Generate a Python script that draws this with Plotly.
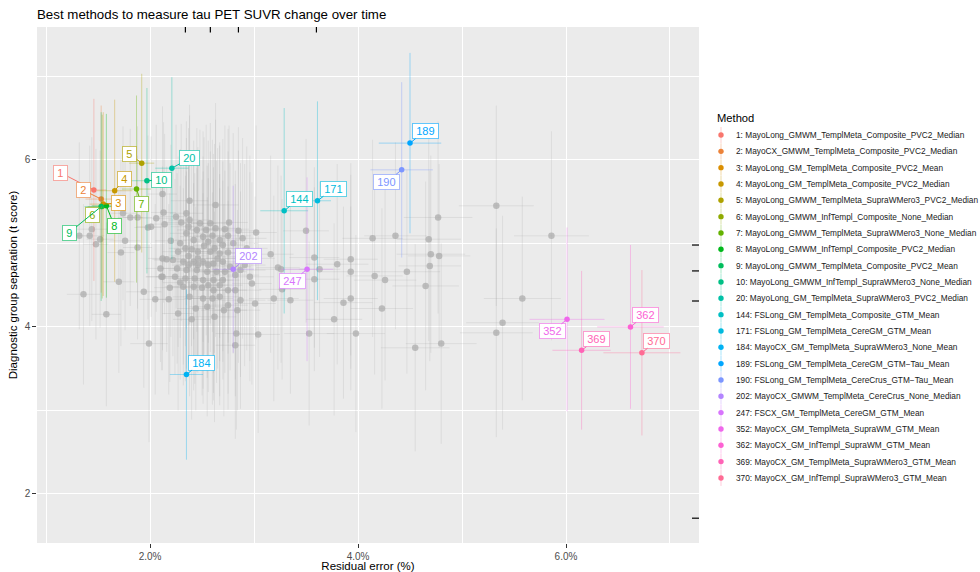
import math
import plotly.graph_objects as go

# ---------------- data ----------------
method_ids = [1, 2, 3, 4, 5, 6, 7, 8, 9, 10, 20, 144, 171, 184, 189, 190, 202, 247, 352, 362, 369, 370]
method_names = [
    "MayoLong_GMWM_TemplMeta_Composite_PVC2_Median",
    "MayoCX_GMWM_TemplMeta_Composite_PVC2_Median",
    "MayoLong_GM_TemplMeta_Composite_PVC2_Mean",
    "MayoLong_GM_TemplMeta_Composite_PVC2_Median",
    "MayoLong_GMWM_TemplMeta_SupraWMero3_PVC2_Median",
    "MayoLong_GMWM_InfTempl_Composite_None_Median",
    "MayoLong_GMWM_TemplMeta_SupraWMero3_None_Median",
    "MayoLong_GMWM_InfTempl_Composite_PVC2_Median",
    "MayoLong_GMWM_TemplMeta_Composite_PVC2_Mean",
    "MayoLong_GMWM_InfTempl_SupraWMero3_None_Median",
    "MayoLong_GM_TemplMeta_SupraWMero3_PVC2_Median",
    "FSLong_GM_TemplMeta_Composite_GTM_Mean",
    "FSLong_GM_TemplMeta_CereGM_GTM_Mean",
    "MayoCX_GM_TemplMeta_SupraWMero3_None_Mean",
    "FSLong_GM_TemplMeta_CereGM_GTM\u2212Tau_Mean",
    "FSLong_GM_TemplMeta_CereCrus_GTM\u2212Tau_Mean",
    "MayoCX_GMWM_TemplMeta_CereCrus_None_Median",
    "FSCX_GM_TemplMeta_CereGM_GTM_Mean",
    "MayoCX_GM_TemplMeta_SupraWM_GTM_Mean",
    "MayoCX_GM_InfTempl_SupraWM_GTM_Mean",
    "MayoCX_GM_TemplMeta_SupraWMero3_GTM_Mean",
    "MayoCX_GM_InfTempl_SupraWMero3_GTM_Mean",
]
# residual error (%) and t score for highlighted methods
hl_x = [1.46, 1.53, 1.55, 1.66, 1.92, 1.54, 1.87, 1.58, 1.53, 1.97, 2.21, 3.29, 3.61, 2.35, 4.50, 4.42, 2.80, 3.51, 6.01, 6.62, 6.15, 6.73]
hl_y = [5.64, 5.53, 5.47, 5.63, 5.96, 5.44, 5.65, 5.45, 5.44, 5.75, 5.90, 5.39, 5.51, 3.43, 6.20, 5.88, 4.69, 4.69, 4.09, 4.00, 3.72, 3.69]
hl_ex = [0.12, 0.15, 0.13, 0.17, 0.12, 0.14, 0.14, 0.14, 0.16, 0.15, 0.16, 0.23, 0.13, 0.16, 0.30, 0.30, 0.20, 0.25, 0.36, 0.32, 0.28, 0.37]
hl_ey = [1.09, 1.12, 1.10, 1.09, 1.07, 1.10, 1.12, 1.10, 1.13, 1.11, 1.09, 1.23, 1.19, 1.02, 1.08, 1.05, 1.00, 1.10, 1.10, 0.98, 0.95, 0.99]

# all other methods (grey)
bg_x = [
    5.33, 4.77, 3.50, 4.14, 4.36, 4.68, 5.86, 3.58, 3.93, 3.80, 4.70, 4.78, 3.26, 3.63, 3.93, 4.47, 4.69,
    3.58, 4.16, 4.26, 4.65, 3.35, 3.86, 3.93, 4.23, 5.58, 3.77, 5.39, 3.53, 3.98, 5.33, 4.80, 4.55, 3.27,
    2.12, 2.13, 2.06, 1.98, 1.81, 1.88, 1.74, 1.44, 1.32, 1.42, 1.52, 1.48, 1.76, 1.88, 1.72, 2.14, 2.20,
    2.12, 2.12, 1.70, 1.94, 1.36, 2.05, 1.58, 1.99,
    2.38, 2.63, 2.25, 2.01, 2.30, 2.38, 2.48, 2.58, 2.63, 2.76, 2.72, 3.02, 2.35, 2.42, 2.51, 2.56, 2.67,
    2.29, 2.70, 2.80, 2.93, 3.16, 2.40, 2.46, 2.58, 2.67, 2.16, 2.22, 2.32, 2.42, 2.51, 2.61, 2.70, 2.77,
    2.26, 2.35, 2.45, 2.55, 2.64, 2.72, 2.87, 2.11, 2.24, 2.34, 2.43, 2.51, 2.61, 2.70, 2.96, 3.23, 2.32,
    2.42, 2.50, 2.61, 2.82, 2.98, 2.18, 2.51, 2.67, 3.19, 3.01, 2.75, 2.55, 2.27, 2.40, 2.71,
    2.84, 2.83, 2.82, 3.04, 2.35,
    2.37, 2.45, 2.54, 2.60, 2.75, 2.85, 2.89, 2.34, 2.52, 2.62, 2.75, 2.85, 2.96, 2.27, 2.37, 2.46, 2.65,
    2.56, 2.46, 2.37, 2.82, 2.91, 2.29, 2.56, 2.67, 2.75, 2.38, 2.60, 2.87, 2.44, 2.62, 2.19, 2.10,
]
bg_y = [
    5.45, 5.31, 5.15, 5.06, 5.09, 5.05, 5.09, 4.83, 4.81, 4.75, 4.87, 4.85, 4.69, 4.69, 4.66, 4.66, 4.73,
    4.57, 4.61, 4.56, 4.49, 4.32, 4.29, 4.34, 4.22, 4.34, 4.09, 4.05, 3.92, 3.92, 3.93, 3.80, 3.75, 4.45,
    5.59, 5.37, 5.30, 5.19, 5.31, 5.31, 5.36, 5.17, 5.09, 5.09, 5.05, 4.99, 5.03, 4.95, 4.89, 5.23, 5.03,
    4.82, 4.60, 4.54, 4.42, 4.39, 4.33, 4.15, 3.80,
    5.51, 5.46, 5.32, 5.20, 5.25, 5.28, 5.24, 5.24, 5.18, 5.25, 5.17, 5.13, 5.12, 5.04, 5.08, 5.02, 5.04,
    5.00, 4.98, 5.00, 4.94, 4.87, 4.93, 4.90, 4.90, 4.88, 4.81, 4.80, 4.78, 4.78, 4.78, 4.76, 4.78, 4.72,
    4.70, 4.68, 4.68, 4.66, 4.66, 4.66, 4.68, 4.60, 4.60, 4.58, 4.58, 4.56, 4.56, 4.56, 4.60, 4.71, 4.48,
    4.48, 4.47, 4.44, 4.44, 4.52, 4.33, 4.34, 4.36, 4.34, 4.28, 4.26, 4.24, 4.16, 4.09, 4.20,
    4.20, 3.92, 3.78, 3.91, 5.36,
    5.20, 5.16, 5.16, 5.09, 5.09, 5.15, 5.06, 4.94, 4.97, 4.94, 4.89, 4.84, 4.82, 4.90, 4.85, 4.82, 4.82,
    4.74, 4.74, 4.74, 4.62, 4.74, 4.53, 4.50, 4.50, 4.44, 4.36, 4.34, 4.32, 4.22, 4.12, 4.47, 4.70,
]
bg_ex = [
    0.36, 0.33, 0.22, 0.29, 0.30, 0.31, 0.36, 0.24, 0.26, 0.30, 0.33, 0.30, 0.25, 0.20, 0.28, 0.32, 0.30,
    0.24, 0.27, 0.30, 0.32, 0.22, 0.28, 0.26, 0.30, 0.37, 0.27, 0.35, 0.24, 0.28, 0.35, 0.34, 0.33, 0.22,
    0.14, 0.12, 0.15, 0.13, 0.12, 0.14, 0.13, 0.15, 0.12, 0.14, 0.13, 0.12, 0.15, 0.14, 0.13, 0.16, 0.15,
    0.14, 0.16, 0.15, 0.17, 0.16, 0.15, 0.14, 0.18,
    0.18, 0.22, 0.15, 0.14, 0.17, 0.20, 0.16, 0.19, 0.21, 0.18, 0.23, 0.20, 0.16, 0.18, 0.22, 0.17, 0.19,
    0.15, 0.21, 0.24, 0.20, 0.22, 0.17, 0.19, 0.16, 0.20, 0.14, 0.18, 0.21, 0.16, 0.19, 0.23, 0.18, 0.20,
    0.15, 0.17, 0.22, 0.19, 0.16, 0.21, 0.24, 0.15, 0.18, 0.20, 0.17, 0.22, 0.19, 0.16, 0.23, 0.21, 0.18,
    0.20, 0.17, 0.22, 0.25, 0.19, 0.16, 0.18, 0.21, 0.24, 0.20, 0.19, 0.17, 0.15, 0.18, 0.22,
    0.22, 0.20, 0.19, 0.21, 0.16,
    0.17, 0.19, 0.21, 0.18, 0.22, 0.20, 0.23, 0.16, 0.19, 0.21, 0.18, 0.22, 0.24, 0.15, 0.17, 0.20, 0.19,
    0.18, 0.21, 0.16, 0.23, 0.20, 0.17, 0.19, 0.22, 0.18, 0.16, 0.20, 0.24, 0.18, 0.21, 0.15, 0.14,
]
bg_ey = [
    1.20, 1.15, 1.10, 1.18, 1.12, 1.22, 1.25, 1.08, 1.15, 1.20, 1.18, 1.10, 1.12, 1.05, 1.16, 1.22, 1.14,
    1.10, 1.18, 1.20, 1.25, 1.12, 1.15, 1.10, 1.20, 1.22, 1.15, 1.28, 1.10, 1.18, 1.25, 1.20, 1.24, 1.08,
    1.05, 1.08, 1.12, 1.10, 1.06, 1.09, 1.04, 1.10, 1.12, 1.08, 1.06, 1.14, 1.07, 1.10, 1.12, 1.08, 1.15,
    1.10, 1.12, 1.09, 1.15, 1.08, 1.14, 1.10, 1.18,
    1.15, 1.22, 1.10, 1.08, 1.18, 1.25, 1.12, 1.20, 1.30, 1.16, 1.24, 1.28, 1.14, 1.19, 1.26, 1.21, 1.17,
    1.13, 1.27, 1.32, 1.22, 1.18, 1.16, 1.25, 1.20, 1.29, 1.11, 1.15, 1.23, 1.19, 1.26, 1.31, 1.20, 1.24,
    1.14, 1.18, 1.22, 1.27, 1.33, 1.21, 1.28, 1.12, 1.17, 1.23, 1.26, 1.30, 1.35, 1.19, 1.25, 1.22, 1.18,
    1.24, 1.29, 1.32, 1.27, 1.21, 1.14, 1.26, 1.30, 1.23, 1.28, 1.25, 1.31, 1.16, 1.20, 1.27,
    1.20, 1.15, 1.12, 1.18, 1.10,
    1.18, 1.22, 1.26, 1.15, 1.28, 1.24, 1.20, 1.17, 1.30, 1.25, 1.21, 1.27, 1.23, 1.14, 1.19, 1.26, 1.32,
    1.22, 1.29, 1.18, 1.25, 1.21, 1.16, 1.28, 1.33, 1.24, 1.19, 1.27, 1.30, 1.22, 1.26, 1.13, 1.12,
]

# rug marks (top: residual error, right: t score)
rug_x = [2.34, 2.58, 2.85, 3.60]
rug_y = [4.98, 4.67, 4.31, 1.71]

x_tickvals = [2, 4, 6]
x_ticktext = ["2.0%", "4.0%", "6.0%"]
y_tickvals = [2, 4, 6]
y_ticktext = ["2", "4", "6"]

# label offsets (pixels, label centre relative to point) - layout only
label_dx = [-33, -18, 15, 10, -12, -10, 5, 8, -32, 15, 18, 15, 16, 15, 15, -15, 15, -15, -15, 15, 15, 15]
label_dy = [-17, -9, -1, -12, -9, 8, 15, 20, 26, -1, -10, -12, -12, -12, -12, 12, -13, 12, 12, -12, -11, -12]


# ---------------- colours (ggplot hue palette) ----------------
def hcl_hex(h, c=100.0, l=65.0):
    hr = math.radians(h)
    u, v = c * math.cos(hr), c * math.sin(hr)
    Xn, Yn, Zn = 95.047, 100.0, 108.883
    Y = Yn * ((l + 16) / 116) ** 3
    den = Xn + 15 * Yn + 3 * Zn
    un, vn = 4 * Xn / den, 9 * Yn / den
    up, vp = u / (13 * l) + un, v / (13 * l) + vn
    X = Y * 9 * up / (4 * vp)
    Z = Y * (12 - 3 * up - 20 * vp) / (4 * vp)
    X, Y, Z = X / 100, Y / 100, Z / 100
    r = 3.240479 * X - 1.537150 * Y - 0.498535 * Z
    g = -0.969256 * X + 1.875992 * Y + 0.041556 * Z
    b = 0.055648 * X - 0.204043 * Y + 1.057311 * Z

    def gam(t):
        t = 12.92 * t if t <= 0.0031308 else 1.055 * t ** (1 / 2.4) - 0.055
        return int(round(min(max(t, 0), 1) * 255))

    return gam(r), gam(g), gam(b)


n = len(method_ids)
rgb = [hcl_hex(15 + i * 360.0 / n) for i in range(n)]
cols = ["rgb(%d,%d,%d)" % c for c in rgb]
cols_faint = ["rgba(%d,%d,%d,0.35)" % c for c in rgb]
cols_border = ["rgba(%d,%d,%d,0.6)" % c for c in rgb]

FONT = "Liberation Sans, Arial, Helvetica, sans-serif"

fig = go.Figure()

fig.add_trace(go.Scatter(
    x=bg_x, y=bg_y, mode="markers",
    marker=dict(size=6.5, color="rgba(172,172,172,0.75)", line=dict(width=0)),
    error_x=dict(type="data", array=bg_ex, color="rgba(150,150,150,0.17)", thickness=1, width=0),
    error_y=dict(type="data", array=bg_ey, color="rgba(150,150,150,0.17)", thickness=1, width=0),
    showlegend=False, hoverinfo="skip",
))

for i in range(n):
    fig.add_trace(go.Scatter(
        x=[hl_x[i]], y=[hl_y[i]], mode="markers",
        marker=dict(size=5.5, color=cols[i], line=dict(width=0)),
        error_x=dict(type="data", array=[hl_ex[i]], color=cols_faint[i], thickness=1, width=0),
        error_y=dict(type="data", array=[hl_ey[i]], color=cols_faint[i], thickness=1, width=0),
        name="%d: %s" % (method_ids[i], method_names[i]),
        showlegend=False,
    ))

annotations = []
for i in range(n):
    txt = str(method_ids[i])
    w = 6.1 * len(txt) + 6.5
    annotations.append(dict(
        x=hl_x[i], y=hl_y[i], xref="x", yref="y",
        ax=label_dx[i], ay=label_dy[i], axref="pixel", ayref="pixel",
        text=txt, showarrow=True, arrowhead=0, arrowwidth=1, arrowcolor=cols[i],
        standoff=0, startstandoff=0,
        font=dict(family=FONT, size=11, color=cols[i]),
        bgcolor="white", bordercolor=cols_border[i], borderwidth=1, borderpad=0,
        width=w, height=13.5, align="center", valign="middle",
    ))

# manual legend (ggplot style, compact spacing)
PW, PH, PL, PT = 662.0, 516.0, 37.0, 27.0


def px2paper(px, py):
    return (px - PL) / PW, (PT + PH - py) / PH


shapes = []
tx, ty = px2paper(715, 118)
annotations.append(dict(x=tx, y=ty, xref="paper", yref="paper", text="Method", showarrow=False,
                        xanchor="left", yanchor="middle", font=dict(family=FONT, size=11.2, color="#000000")))
for i in range(n):
    py = 135 + 16.33 * i
    dx, dy = px2paper(721, py)
    lx, _ = px2paper(734, py)
    shapes.append(dict(type="line", xref="paper", yref="paper", x0=dx, x1=dx,
                       y0=dy - 8 / PH, y1=dy + 8 / PH, line=dict(color=cols_faint[i], width=1)))
    shapes.append(dict(type="circle", xref="paper", yref="paper", xsizemode="pixel", ysizemode="pixel",
                       xanchor=dx, yanchor=dy, x0=-2.7, x1=2.7, y0=-2.7, y1=2.7,
                       fillcolor=cols[i], line=dict(width=0)))
    annotations.append(dict(x=lx, y=dy, xref="paper", yref="paper",
                            text="%d: %s" % (method_ids[i], method_names[i]), showarrow=False,
                            xanchor="left", yanchor="middle",
                            font=dict(family=FONT, size=8.3, color="#1A1A1A")))

# rugs
for v in rug_x:
    shapes.append(dict(type="line", xref="x", yref="paper", x0=v, x1=v, y0=1, y1=1 - 5.5 / PH,
                       line=dict(color="black", width=1.2)))
for v in rug_y:
    shapes.append(dict(type="line", xref="paper", yref="y", x0=1 - 7 / PW, x1=1, y0=v, y1=v,
                       line=dict(color="black", width=1.2)))

fig.update_layout(
    width=980, height=572,
    margin=dict(l=37, r=281, t=27, b=29, autoexpand=False),
    paper_bgcolor="white", plot_bgcolor="#EBEBEB",
    font=dict(family=FONT, color="#000000"),
    title=dict(text="Best methods to measure tau PET SUVR change over time",
               x=PL / 980, xref="container", xanchor="left",
               y=1 - 14 / 572, yref="container", yanchor="middle",
               font=dict(family=FONT, size=13.3, color="#000000")),
    showlegend=False,
    annotations=annotations,
    shapes=shapes,
    xaxis=dict(range=[0.913, 7.279], tickvals=x_tickvals, ticktext=x_ticktext,
               showgrid=True, gridcolor="white", gridwidth=1.1, zeroline=False, showline=False,
               ticks="outside", ticklen=3.7, tickwidth=1, tickcolor="#333333",
               tickfont=dict(family=FONT, size=10, color="#4D4D4D"),
               minor=dict(dtick=1, tick0=0, showgrid=True, gridcolor="white", gridwidth=0.55, ticks=""),
               title=dict(text="Residual error (%)", standoff=0,
                          font=dict(family=FONT, size=11.5, color="#000000"))),
    yaxis=dict(range=[1.413, 7.59], tickvals=y_tickvals, ticktext=y_ticktext,
               showgrid=True, gridcolor="white", gridwidth=1.1, zeroline=False, showline=False,
               ticks="outside", ticklen=3.7, tickwidth=1, tickcolor="#333333",
               tickfont=dict(family=FONT, size=10, color="#4D4D4D"),
               minor=dict(dtick=1, tick0=0, showgrid=True, gridcolor="white", gridwidth=0.55, ticks=""),
               title=dict(text="Diagnostic group separation (t score)", standoff=4,
                          font=dict(family=FONT, size=11.5, color="#000000"))),
)

fig.write_html("out.html")
